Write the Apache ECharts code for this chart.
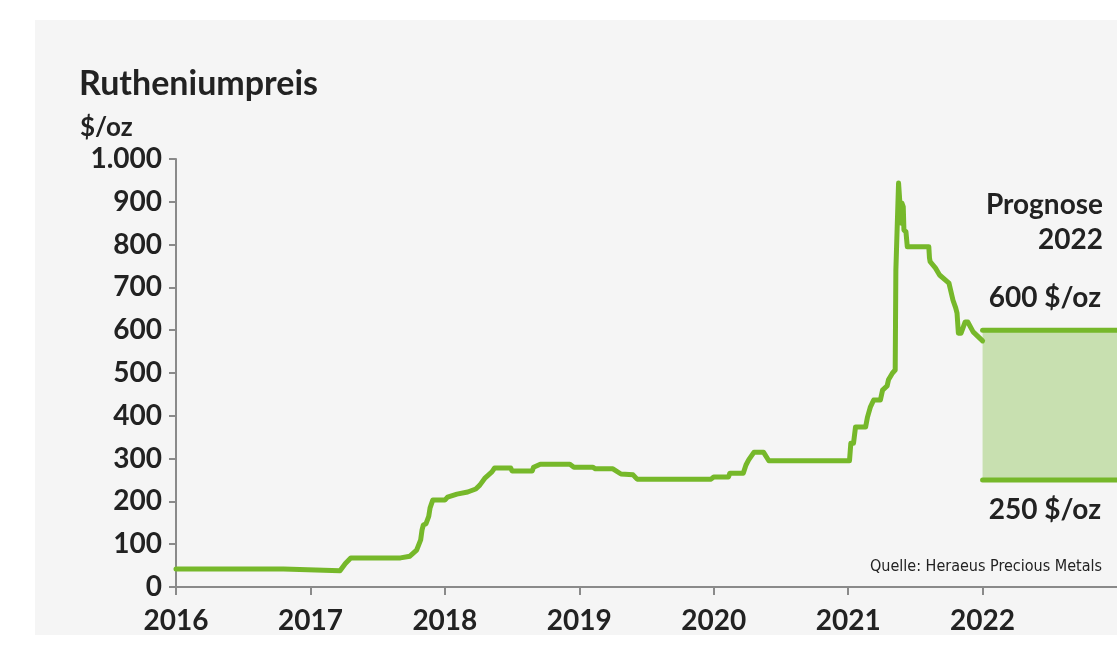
<!DOCTYPE html>
<html><head><meta charset="utf-8">
<script src="https://cdn.jsdelivr.net/npm/echarts@6/dist/echarts.min.js"></script>
<style>html,body{margin:0;padding:0;background:#fff}#c{width:1117px;height:663px}</style>
</head><body><div id="c"></div>
<script>
// Ruthenium price, x = decimal year, y = $/oz
const years = [2016.00,2016.80,2016.81,2017.22,2017.26,2017.30,2017.67,2017.74,2017.79,2017.82,2017.83,2017.84,2017.86,2017.88,2017.89,2017.91,2018.00,2018.02,2018.09,2018.17,2018.23,2018.26,2018.30,2018.35,2018.37,2018.49,2018.50,2018.65,2018.66,2018.71,2018.93,2018.96,2019.10,2019.12,2019.25,2019.31,2019.40,2019.43,2019.98,2020.00,2020.11,2020.12,2020.22,2020.24,2020.26,2020.30,2020.37,2020.41,2021.01,2021.02,2021.04,2021.055,2021.13,2021.144,2021.166,2021.19,2021.24,2021.256,2021.29,2021.30,2021.33,2021.35,2021.355,2021.375,2021.395,2021.40,2021.41,2021.415,2021.43,2021.44,2021.60,2021.605,2021.61,2021.65,2021.66,2021.68,2021.69,2021.75,2021.755,2021.78,2021.785,2021.80,2021.81,2021.82,2021.84,2021.87,2021.89,2021.93,2021.935,2022.00];
const prices = [42,42,38,38,55,68,68,72,86,110,133,145,148,165,185,203,203,210,217,222,229,238,255,269,278,278,271,271,280,287,287,280,280,276,276,264,262,252,252,257,257,266,266,285,297,315,315,295,295,336,336,374,374,397,421,437,437,460,470,484,500,507,740,944,850,897,888,834,830,795,795,769,760,745,745,729,729,710,710,670,670,652,640,593,593,619,619,596,596,575,575];
const forecastYears = [2022, 2023];
const forecastLow = 250;
const forecastHigh = 600;
const xTickYears = [2016,2017,2018,2019,2020,2021,2022];

const GREEN = '#76b82a';
const FONT = 'Lato';
const chart = echarts.init(document.getElementById('c'));
const line = years.map((y, i) => [y, prices[i]]);
const T = (t, x, y, size, align, font) => ({type:'text', x:x, y:y,
  style:{text:t, font:(font || ('bold ' + size + 'px ' + FONT)), fill:'#222', align:align || 'left', verticalAlign:'middle'}});
chart.setOption({
  animation: false,
  backgroundColor: '#fff',
  graphic: [
    {type:'rect', z:-10, shape:{x:35,y:20,width:1082,height:615}, style:{fill:'#f5f5f5'}},
    T('Rutheniumpreis', 79, 84, 34),
    T('$/oz', 80, 128, 26),
    T('Prognose', 1103, 205, 28, 'right'),
    T('2022', 1103, 240, 28, 'right'),
    T('600 $/oz', 1101, 298, 28, 'right'),
    T('250 $/oz', 1101, 510, 28, 'right'),
    T('Quelle: Heraeus Precious Metals', 1102, 567, 0, 'right', '16px "DejaVu Sans Condensed", "Liberation Sans"')
  ],
  grid: {left:176, right:0, top:159, bottom:76},
  xAxis: {
    type:'value', min:2016, max:2023, interval:1,
    axisLine:{show:true, lineStyle:{color:'#8a8a8a', width:2}},
    axisTick:{show:true, length:8, customValues: xTickYears, lineStyle:{color:'#8a8a8a', width:2}},
    splitLine:{show:false},
    axisLabel:{margin:20, color:'#222', fontFamily:FONT, fontWeight:'bold', fontSize:28,
      customValues: xTickYears, formatter: v => String(Math.round(v))}
  },
  yAxis: {
    type:'value', min:0, max:1000, interval:100,
    axisLine:{show:true, lineStyle:{color:'#8a8a8a', width:2}},
    axisTick:{show:true, length:7, lineStyle:{color:'#8a8a8a', width:2}},
    splitLine:{show:false},
    axisLabel:{margin:14, color:'#222', fontFamily:FONT, fontWeight:'bold', fontSize:28,
      formatter: v => v.toLocaleString('de-DE')}
  },
  series: [
    {type:'line', data: line, showSymbol:false, lineStyle:{color:GREEN, width:5, cap:'round', join:'round'}, z:5},
    {type:'line', data: forecastYears.map(x=>[x, forecastLow]), showSymbol:false,
      lineStyle:{color:GREEN, width:5, cap:'round'}, z:4,
      markArea:{silent:true, itemStyle:{color:'#c8e0b0'},
        data:[[{coord:[forecastYears[0], forecastLow]},{coord:[forecastYears[1], forecastHigh]}]]}},
    {type:'line', data: forecastYears.map(x=>[x, forecastHigh]), showSymbol:false,
      lineStyle:{color:GREEN, width:5, cap:'round'}, z:4}
  ]
});
</script></body></html>
